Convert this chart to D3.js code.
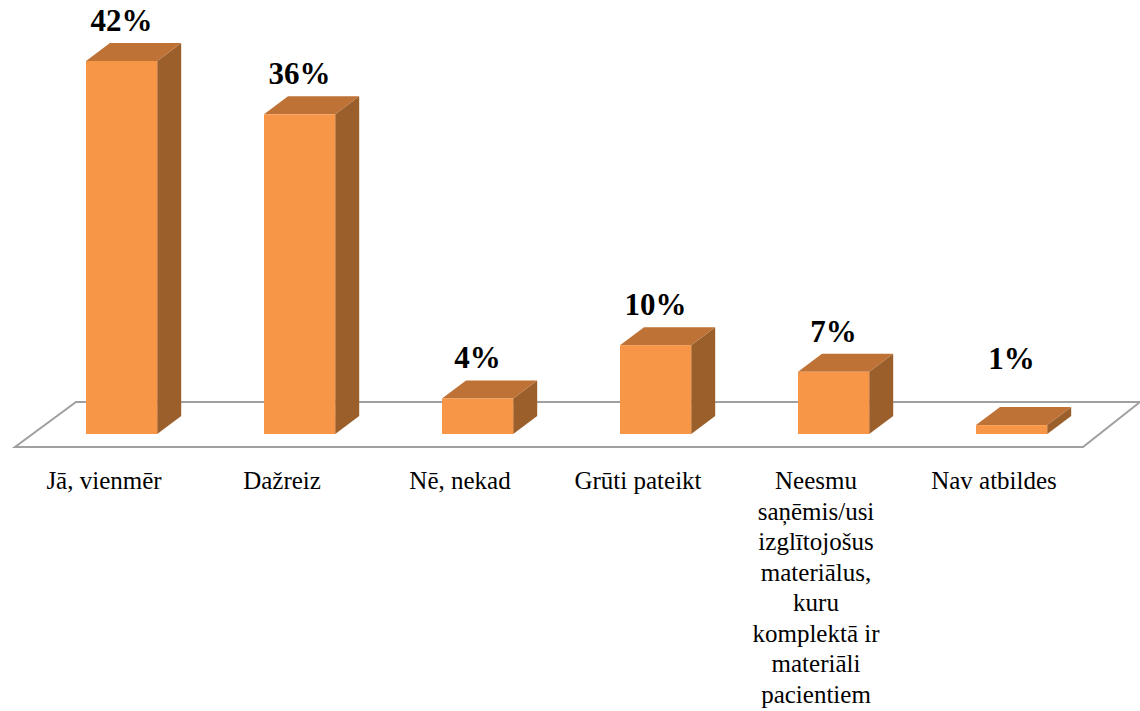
<!DOCTYPE html>
<html>
<head>
<meta charset="utf-8">
<script src="https://cdn.jsdelivr.net/npm/d3@7"></script>
<style>
  html, body { margin: 0; padding: 0; background: #fff; }
  svg { display: block; }
  text { font-family: "Liberation Serif", "Times New Roman", serif; }
</style>
</head>
<body>
<svg id="chart" width="1140" height="711"></svg>
<script>
const categories = [
  "Jā, vienmēr",
  "Dažreiz",
  "Nē, nekad",
  "Grūti pateikt",
  "Neesmu saņēmis/usi izglītojošus materiālus, kuru komplektā ir materiāli pacientiem",
  "Nav atbildes"
];
const categoryLines = [
  ["Jā, vienmēr"],
  ["Dažreiz"],
  ["Nē, nekad"],
  ["Grūti pateikt"],
  ["Neesmu", "saņēmis/usi", "izglītojošus", "materiālus,", "kuru", "komplektā ir", "materiāli", "pacientiem"],
  ["Nav atbildes"]
];
const values = [42, 36, 4, 10, 7, 1];
const valueLabels = ["42%", "36%", "4%", "10%", "7%", "1%"];

const svg = d3.select("#chart");

// layout
const floorFrontY = 447, floorBackY = 402;
const floorDX = 61;
const barDX = 24, barDY = 18;
const barOffX = 17.6, barBaseY = 434;

const x = d3.scaleBand().domain(categories).range([15, 1083]).padding(0);
const y = d3.scaleLinear().domain([0, 42]).range([barBaseY, 61]);
const barW = x.bandwidth() * 0.4;

// floor
const fx0 = x.range()[0], fx1 = x.range()[1];
svg.append("path")
  .attr("d", `M${fx0},${floorFrontY} L${fx1},${floorFrontY} L${fx1 + floorDX - 4},${floorBackY} L${fx0 + floorDX},${floorBackY} Z`)
  .attr("fill", "#fff")
  .attr("stroke", "#a0a0a0")
  .attr("stroke-width", 2);

const bars = svg.append("g").selectAll("g").data(categories).join("g");

bars.each(function(c, i) {
  const g = d3.select(this);
  const x0 = x(c) + (x.bandwidth() - barW) / 2 + barOffX;
  const x1 = x0 + barW;
  const yt = y(values[i]);
  const yb = barBaseY;
  g.append("path")
    .attr("d", `M${x1},${yt} L${x1 + barDX},${yt - barDY} L${x1 + barDX},${yb - barDY} L${x1},${yb} Z`)
    .attr("fill", "#9b5f2c");
  g.append("path")
    .attr("d", `M${x0},${yt} L${x0 + barDX},${yt - barDY} L${x1 + barDX},${yt - barDY} L${x1},${yt} Z`)
    .attr("fill", "#be7236");
  g.append("rect")
    .attr("x", x0).attr("y", yt)
    .attr("width", barW).attr("height", yb - yt)
    .attr("fill", "#f79646");
  g.append("text")
    .attr("x", x0 + barW / 2)
    .attr("y", Math.min(yt - 30, floorBackY - 33))
    .attr("text-anchor", "middle")
    .style("font-weight", "bold")
    .style("font-size", "31px")
    .attr("fill", "#000")
    .text(valueLabels[i]);
});

// category labels
const lab = svg.append("g")
  .style("font-size", "25px")
  .attr("fill", "#000")
  .attr("text-anchor", "middle");
categories.forEach((c, i) => {
  const cx = x(c) + x.bandwidth() / 2;
  const t = lab.append("text").attr("x", cx).attr("y", 489);
  categoryLines[i].forEach((line, j) => {
    t.append("tspan")
      .attr("x", cx)
      .attr("dy", j === 0 ? 0 : 30.5)
      .text(line);
  });
});
</script>
</body>
</html>
